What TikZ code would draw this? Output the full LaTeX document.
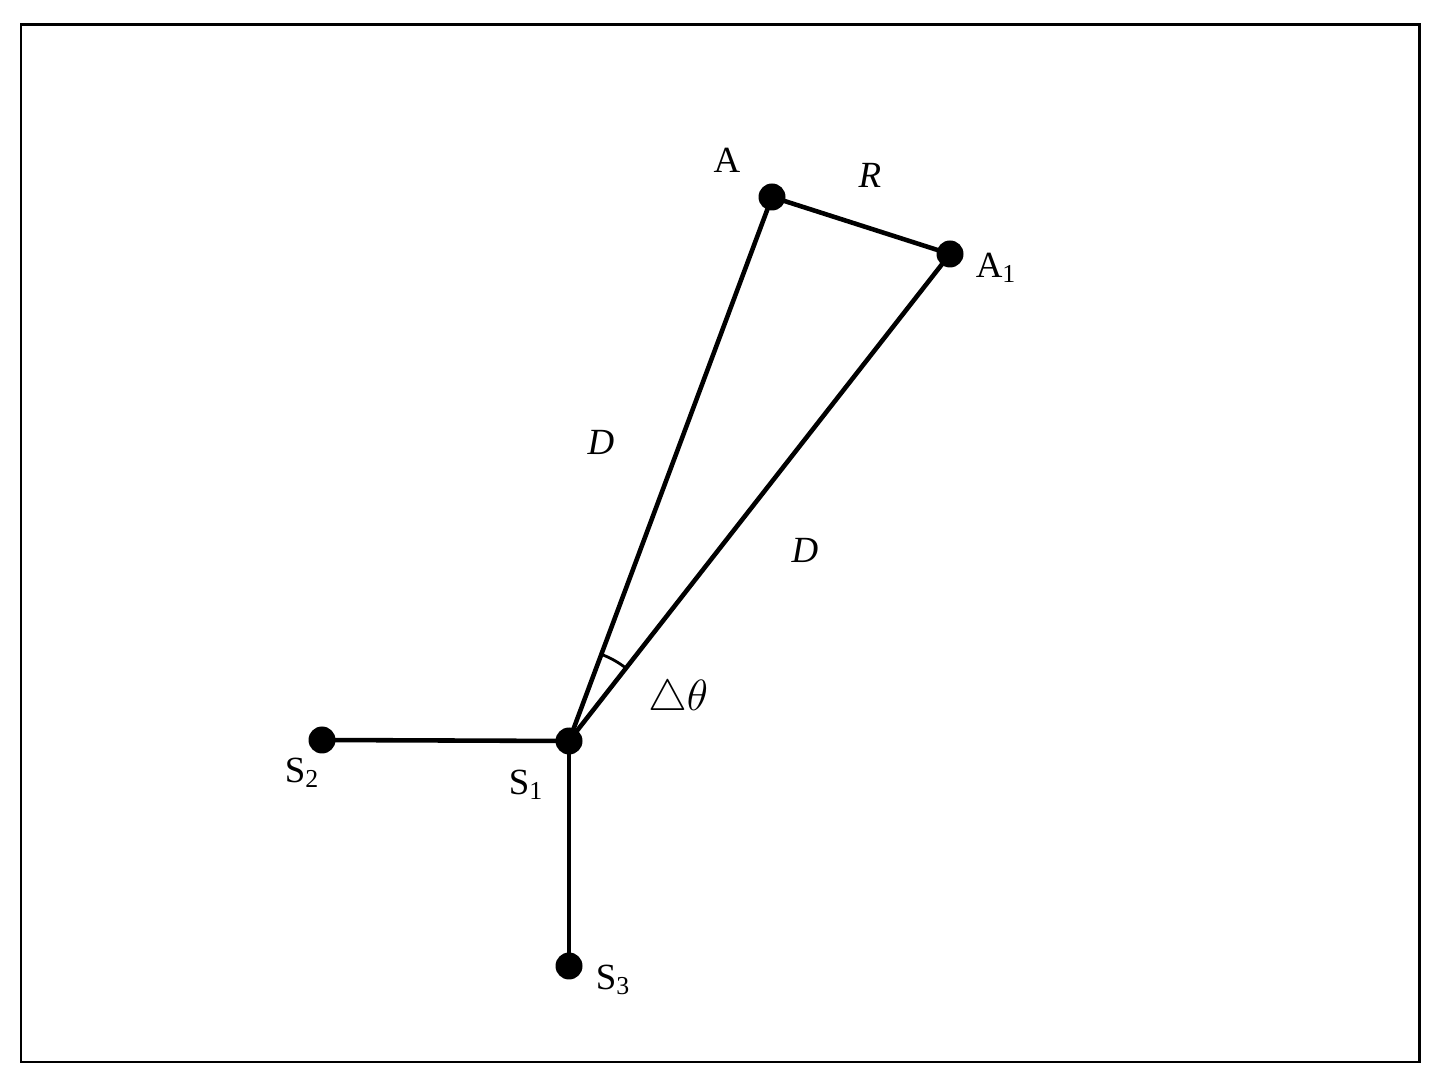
\documentclass[tikz,border=0pt]{standalone}
\usepackage{fontspec}
\setmainfont{Liberation Serif}
\usepackage{amsmath}
\usetikzlibrary{calc, positioning, angles}

\tikzset{
	pt/.style={circle, fill=black, inner sep=0pt, minimum size=0.54cm},
	lbl/.style={font=\fontsize{21}{24}\selectfont, inner sep=0pt},
	link/.style={line width=2.6pt}
}

\begin{document}
\begin{tikzpicture}[x=0.02cm, y=0.02cm]
	\useasboundingbox (0,0) rectangle (1444,1089);
	\draw [line width=1.7pt] (21,27) rectangle (1419,1064);
	
	% points
	\node [pt] (S1) at (569,348) {};
	\node [pt] (S2) at (322,349) {};
	\node [pt] (S3) at (569,123) {};
	\node [pt] (A) at (772,892) {};
	\node [pt] (A1) at (950,835) {};
	
	% segments
	\draw [link] (S2.center) -- (S1.center);
	\draw [link] (S1.center) -- (S3.center);
	\draw [link] (S1.center) -- (A.center);
	\draw [link] (S1.center) -- (A1.center);
	\draw [link] (A.center) -- (A1.center);
	\pic [draw, line width=1.6pt, angle radius=1.85cm] {angle = A1--S1--A};
	
	% labels
	\node [lbl] (labA) at (727,929) {A};
	\node [lbl] (labA1) at (996,821) {A\textsubscript{1}};
	\node [lbl] (labR) at (870,914) {\textit{R}};
	\node [lbl] (labD1) at (601,647) {\textit{D}};
	\node [lbl] (labD2) at (805,539) {\textit{D}};
	\node [lbl, font=\fontsize{27}{30}\selectfont] (labTh) at (678,389) {$\triangle\theta$};
	\node [lbl] (labS1) at (526,304) {S\textsubscript{1}};
	\node [lbl] (labS2) at (302,316) {S\textsubscript{2}};
	\node [lbl] (labS3) at (613,109) {S\textsubscript{3}};
\end{tikzpicture}
\end{document}
